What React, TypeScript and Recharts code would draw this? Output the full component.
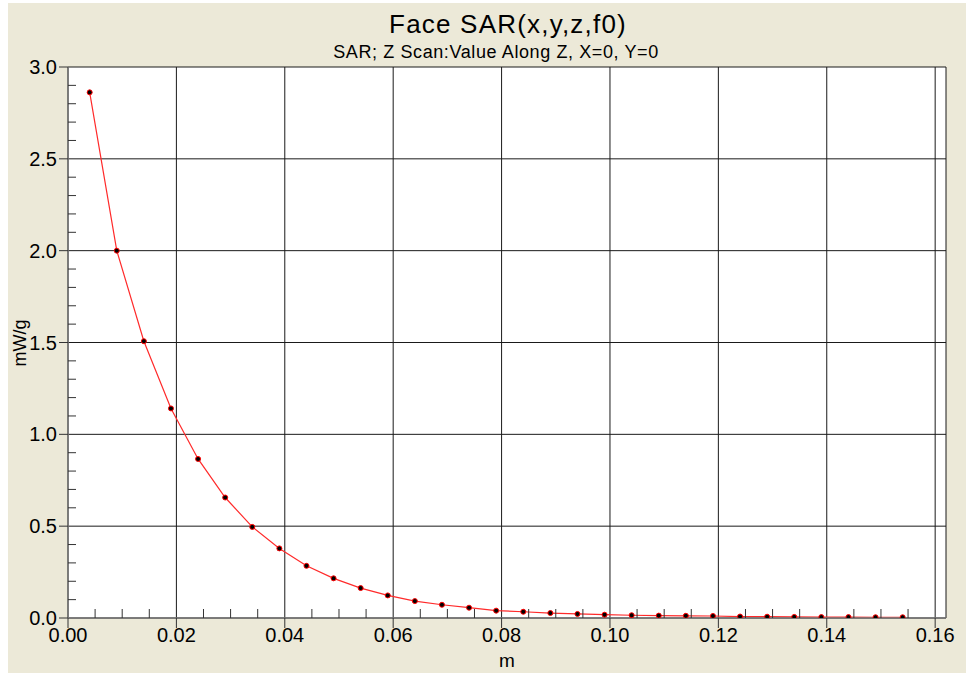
import React from 'react';
import { LineChart, Line, XAxis, YAxis, CartesianGrid } from 'recharts';

// z position along the scan (m) and SAR value (mW/g)
const zValues = [
  0.004, 0.009, 0.014, 0.019, 0.024, 0.029, 0.034, 0.039, 0.044, 0.049,
  0.054, 0.059, 0.064, 0.069, 0.074, 0.079, 0.084, 0.089, 0.094, 0.099,
  0.104, 0.109, 0.114, 0.119, 0.124, 0.129, 0.134, 0.139, 0.144, 0.149, 0.154,
];
const sarValues = [
  2.862, 2.0, 1.507, 1.141, 0.866, 0.656, 0.496, 0.379, 0.284, 0.216,
  0.163, 0.123, 0.092, 0.072, 0.056, 0.04, 0.034, 0.027, 0.022, 0.018,
  0.015, 0.013, 0.012, 0.011, 0.008, 0.007, 0.006, 0.005, 0.005, 0.004, 0.004,
];

const xTicks = [0, 0.02, 0.04, 0.06, 0.08, 0.1, 0.12, 0.14, 0.16];
const xMinorTicks = [
  0.005, 0.01, 0.015, 0.025, 0.03, 0.035, 0.045, 0.05, 0.055, 0.065, 0.07, 0.075,
  0.085, 0.09, 0.095, 0.105, 0.11, 0.115, 0.125, 0.13, 0.135, 0.145, 0.15, 0.155,
];
const yTicks = [0, 0.5, 1.0, 1.5, 2.0, 2.5, 3.0];
const yMinorTicks = [
  0.1, 0.2, 0.3, 0.4, 0.6, 0.7, 0.8, 0.9, 1.1, 1.2, 1.3, 1.4, 1.6, 1.7, 1.8, 1.9,
  2.1, 2.2, 2.3, 2.4, 2.6, 2.7, 2.8, 2.9,
];

const title = 'Face SAR(x,y,z,f0)';
const subtitle = 'SAR; Z Scan:Value Along Z, X=0, Y=0';
const xLabel = 'm';
const yLabel = 'mW/g';

const font = '"Liberation Sans", Arial, sans-serif';

const data = zValues.map((z, i) => ({ z, sar: sarValues[i] }));

// minor axes draw only their tick lines
const NoLabel = () => <g />;

const App: React.FC = () => {
  return (
    <div style={{ position: 'fixed', left: 0, top: 0, width: 966, height: 673, background: '#fff' }}>
      <div style={{ position: 'absolute', left: 8, top: 3, right: 0, bottom: 0, background: '#ECE9D8' }} />
      <div style={{ position: 'absolute', left: 0, top: 0 }}>
        <LineChart width={966} height={673} data={data} margin={{ top: 67, right: 20, bottom: 0, left: 8 }}>
          <CartesianGrid stroke="#1a1a1a" strokeWidth={1} fill="#fff" fillOpacity={1} />
          <XAxis
            dataKey="z"
            type="number"
            domain={[0, 0.162]}
            allowDataOverflow
            ticks={xTicks}
            interval={0}
            tickFormatter={(v: number) => v.toFixed(2)}
            tick={{ fontSize: 20, fill: '#000', fontFamily: font }}
            tickSize={10}
            tickMargin={0}
            tickLine={{ stroke: '#333' }}
            axisLine={{ stroke: '#777', strokeWidth: 1.5 }}
            height={55}
          />
          <XAxis
            xAxisId="minor"
            dataKey="z"
            type="number"
            domain={[0, 0.162]}
            allowDataOverflow
            ticks={xMinorTicks}
            interval={0}
            mirror
            height={1}
            tick={<NoLabel />}
            tickSize={9}
            tickLine={{ stroke: '#333' }}
            axisLine={false}
          />
          <XAxis
            xAxisId="top"
            orientation="top"
            dataKey="z"
            type="number"
            domain={[0, 0.162]}
            allowDataOverflow
            height={0}
            tick={false}
            tickLine={false}
            axisLine={{ stroke: '#222' }}
          />
          <YAxis
            type="number"
            domain={[0, 3]}
            allowDataOverflow
            ticks={yTicks}
            interval={0}
            tickFormatter={(v: number) => v.toFixed(1)}
            tick={{ fontSize: 20, fill: '#000', fontFamily: font }}
            tickSize={9}
            tickMargin={2}
            tickLine={{ stroke: '#333' }}
            axisLine={{ stroke: '#777', strokeWidth: 1.5 }}
            width={60}
          />
          <YAxis
            yAxisId="minor"
            type="number"
            domain={[0, 3]}
            allowDataOverflow
            ticks={yMinorTicks}
            interval={0}
            mirror
            width={1}
            tick={<NoLabel />}
            tickSize={8}
            tickLine={{ stroke: '#333' }}
            axisLine={false}
          />
          <YAxis
            yAxisId="right"
            orientation="right"
            type="number"
            domain={[0, 3]}
            allowDataOverflow
            width={0}
            tick={false}
            tickLine={false}
            axisLine={{ stroke: '#222' }}
          />
          <Line
            xAxisId="minor"
            yAxisId="minor"
            dataKey="sar"
            type="linear"
            stroke="none"
            dot={false}
            activeDot={false}
            legendType="none"
            isAnimationActive={false}
          />
          <Line
            dataKey="sar"
            type="linear"
            stroke="#ff2a2a"
            strokeWidth={1.2}
            dot={{ r: 2.5, fill: '#000', stroke: '#ff0000', strokeWidth: 1 }}
            isAnimationActive={false}
          />
        </LineChart>
      </div>
      <svg width={966} height={673} style={{ position: 'absolute', left: 0, top: 0, pointerEvents: 'none' }}>
        <text x={508} y={33} textAnchor="middle" fontFamily={font} fontSize={26} letterSpacing={1.2} fill="#000">
          {title}
        </text>
        <text x={496} y={58} textAnchor="middle" fontFamily={font} fontSize={18} letterSpacing={0.6} fill="#000">
          {subtitle}
        </text>
        <text x={507} y={667} textAnchor="middle" fontFamily={font} fontSize={19} fill="#000">
          {xLabel}
        </text>
        <text x={26} y={343} textAnchor="middle" fontFamily={font} fontSize={18} fill="#000" transform="rotate(-90 26 343)">
          {yLabel}
        </text>
      </svg>
    </div>
  );
};

export default App;
